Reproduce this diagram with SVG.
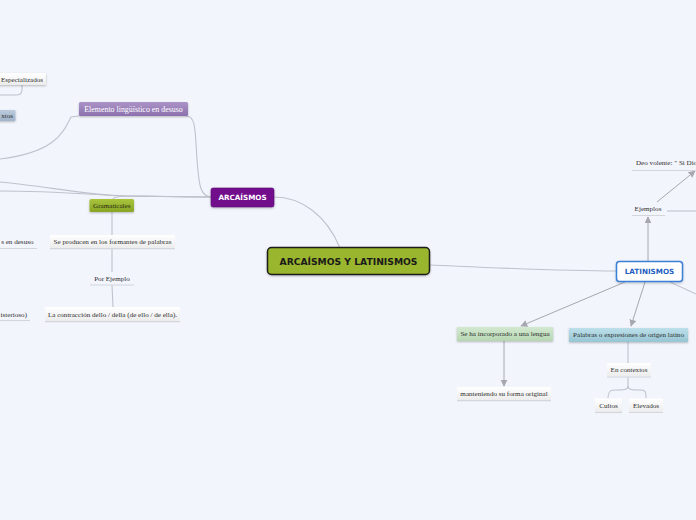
<svg xmlns="http://www.w3.org/2000/svg" width="696" height="520" viewBox="0 0 696 520">
<defs>
<linearGradient id="gw" x1="0" y1="0" x2="0" y2="1"><stop offset="0" stop-color="#ffffff"/><stop offset="1" stop-color="#ececec"/></linearGradient>
<linearGradient id="gp" x1="0" y1="0" x2="0" y2="1"><stop offset="0" stop-color="#ab93c6"/><stop offset="1" stop-color="#8c70ae"/></linearGradient>
<linearGradient id="gg" x1="0" y1="0" x2="0" y2="1"><stop offset="0" stop-color="#aac43c"/><stop offset="1" stop-color="#88a526"/></linearGradient>
<linearGradient id="glg" x1="0" y1="0" x2="0" y2="1"><stop offset="0" stop-color="#d3e8d0"/><stop offset="1" stop-color="#b6d7b2"/></linearGradient>
<linearGradient id="glb" x1="0" y1="0" x2="0" y2="1"><stop offset="0" stop-color="#bde0ea"/><stop offset="1" stop-color="#96c5d3"/></linearGradient>
<linearGradient id="gs" x1="0" y1="0" x2="0" y2="1"><stop offset="0" stop-color="#bccbdc"/><stop offset="1" stop-color="#9fb3ca"/></linearGradient>
<marker id="ar" viewBox="0 0 10 10" refX="9" refY="5" markerWidth="7" markerHeight="7" orient="auto" markerUnits="userSpaceOnUse"><path d="M0,0 L10,5 L0,10 z" fill="#a6a8ae"/></marker>
<filter id="sh" x="-10%" y="-20%" width="120%" height="160%"><feDropShadow dx="0" dy="1" stdDeviation="0.8" flood-color="#000" flood-opacity="0.25"/></filter>
</defs>
<style>
.c{fill:none;stroke:#bfc2cc;stroke-width:1.1}
.a{fill:none;stroke:#a6a8ae;stroke-width:1;marker-end:url(#ar)}
.t{font-family:"Liberation Serif","DejaVu Serif",serif;font-size:7.1px;fill:#2e2e2e;text-anchor:middle}
.tb{font-family:"DejaVu Sans","Liberation Sans",sans-serif;font-weight:bold;text-anchor:middle}
.ul{stroke:#d4d6dc;stroke-width:1.2}
</style>
<rect width="696" height="520" fill="#f3f5fd"/>
<g id="connectors">
<path class="c" d="M274,197 C300,197 326,214 340,248"/>
<path class="c" d="M430,265 C500,268 560,271 616,271"/>
<path class="c" d="M211,197 C200,196 199,185 197,160 C195,130 196,116 186,116"/>
<path class="c" d="M211,197 L125,196 C85,195 45,186 0,182"/>
<path class="c" d="M211,197 L125,196 C85,194 45,191 0,191"/>
<path class="c" d="M211,197 C150,197 113,194 113,199"/>
<path class="c" d="M79,116 L71,117 C64,130 58,152 0,159"/>
<path class="c" d="M22,85 L22,90 C22,94 20,95 16,95 L0,95"/>
<path class="c" d="M112,212 L112,235"/>
<path class="c" d="M112,249 L112,272"/>
<path class="c" d="M112,285 L113,307"/>
<path class="a" d="M648,261 L648,217"/>
<path class="a" d="M657,202 L695,171"/>
<path class="c" d="M667,211 L696,211"/>
<path class="c" d="M670,282 L696,294"/>
<path class="a" d="M625,282 L521,326"/>
<path class="a" d="M645,282 L631,326"/>
<path class="a" d="M504,341 L504,386"/>
<path class="c" d="M628,342 L628,363"/>
<path class="c" d="M628,377 L628,386 C628,390 624,390 614,390 C609,390 608,393 608,398"/>
<path class="c" d="M628,386 C628,390 632,390 641,390 C646,390 646,393 646,398"/>
</g>
<g id="n-central"><rect x="267.5" y="247.5" width="162" height="27" rx="4" fill="#9ab52d" stroke="#1c1c1c" stroke-width="1.5" filter="url(#sh)"/><text class="tb" x="348.5" y="264.5" font-size="9.2" fill="#1a1a1a">ARCAÍSMOS Y LATINISMOS</text></g>
<g id="n-arcaismos"><rect x="211" y="188" width="63" height="19" rx="2" fill="#720c8c" stroke="#5d0873" stroke-width="0.6" filter="url(#sh)"/><text class="tb" x="242.5" y="200" font-size="7.2" fill="#fff">ARCAÍSMOS</text></g>
<g id="n-latinismos"><rect x="616.5" y="261.5" width="66" height="20" rx="3" fill="#fff" stroke="#3b7fd6" stroke-width="1.5" filter="url(#sh)"/><text class="tb" x="649.5" y="274" font-size="7.2" fill="#1f5fbf">LATINISMOS</text></g>
<g id="n-elemento"><rect x="79" y="102" width="109" height="14" rx="1.5" fill="url(#gp)" filter="url(#sh)"/><text class="t" x="133.5" y="112" style="fill:#fff;font-size:7.9px">Elemento lingüístico en desuso</text></g>
<g id="n-especializados"><rect x="-4" y="73" width="50" height="12" rx="1" fill="url(#gw)" filter="url(#sh)"/><text class="t" x="22" y="81.6">Especializados</text></g>
<g id="n-contextos-left"><rect x="-4" y="110" width="19.5" height="11" rx="1" fill="url(#gs)" filter="url(#sh)"/><text class="t" x="13" y="118" style="text-anchor:end">xtos</text></g>
<g id="n-gramaticales"><rect x="89.5" y="199" width="44.5" height="13" rx="1.5" fill="url(#gg)" filter="url(#sh)"/><text class="t" x="111.8" y="208" style="fill:#2a2a10">Gramaticales</text></g>
<g id="n-seproducen"><rect x="50" y="235" width="125" height="13" fill="url(#gw)"/><line class="ul" x1="50" y1="248.6" x2="175" y2="248.6"/><text class="t" x="112.5" y="244.2">Se producen en los formantes de palabras</text></g>
<g id="n-porejemplo"><line class="ul" x1="90" y1="285" x2="134" y2="285"/><text class="t" x="112" y="280.5">Por Ejemplo</text></g>
<g id="n-contraccion"><rect x="45" y="307" width="135" height="14" fill="url(#gw)"/><line class="ul" x1="45" y1="321.6" x2="180" y2="321.6"/><text class="t" x="112.5" y="316.6">La contracción dello / della (de ello / de ella).</text></g>
<g id="n-desuso-left"><line class="ul" x1="0" y1="248.5" x2="37" y2="248.5"/><text class="t" x="33.5" y="244.2" style="text-anchor:end">s en desuso</text></g>
<g id="n-misterioso-left"><line class="ul" x1="0" y1="320.5" x2="30" y2="320.5"/><text class="t" x="27" y="316.6" style="text-anchor:end">isterioso)</text></g>
<g id="n-deovolente"><line class="ul" x1="632" y1="170.5" x2="696" y2="170.5"/><text class="t" x="636" y="165" style="text-anchor:start">Deo volente: " Si Dio</text></g>
<g id="n-ejemplos"><line class="ul" x1="632" y1="215.5" x2="665" y2="215.5"/><text class="t" x="648" y="211">Ejemplos</text></g>
<g id="n-incorporado"><rect x="457" y="327" width="96" height="14" fill="url(#glg)" filter="url(#sh)"/><text class="t" x="505" y="336.4">Se ha incorporado a una lengua</text></g>
<g id="n-manteniendo"><rect x="457" y="387" width="94" height="13" fill="url(#gw)"/><line class="ul" x1="457" y1="400.6" x2="551" y2="400.6"/><text class="t" x="504" y="396">manteniendo su forma original</text></g>
<g id="n-palabras"><rect x="569" y="328" width="119" height="14" fill="url(#glb)" filter="url(#sh)"/><text class="t" x="628.5" y="337.4">Palabras o expresiones de origen latino</text></g>
<g id="n-encontextos"><rect x="607" y="363" width="44" height="13.5" fill="url(#gw)"/><line class="ul" x1="607" y1="377" x2="651" y2="377"/><text class="t" x="629" y="372.4">En contextos</text></g>
<g id="n-cultos"><rect x="595" y="398.5" width="27" height="13.5" fill="url(#gw)"/><line class="ul" x1="595" y1="412.5" x2="622" y2="412.5"/><text class="t" x="608.5" y="408">Cultos</text></g>
<g id="n-elevados"><rect x="629" y="398.5" width="34" height="13.5" fill="url(#gw)"/><line class="ul" x1="629" y1="412.5" x2="663" y2="412.5"/><text class="t" x="646" y="408">Elevados</text></g>
</svg>
